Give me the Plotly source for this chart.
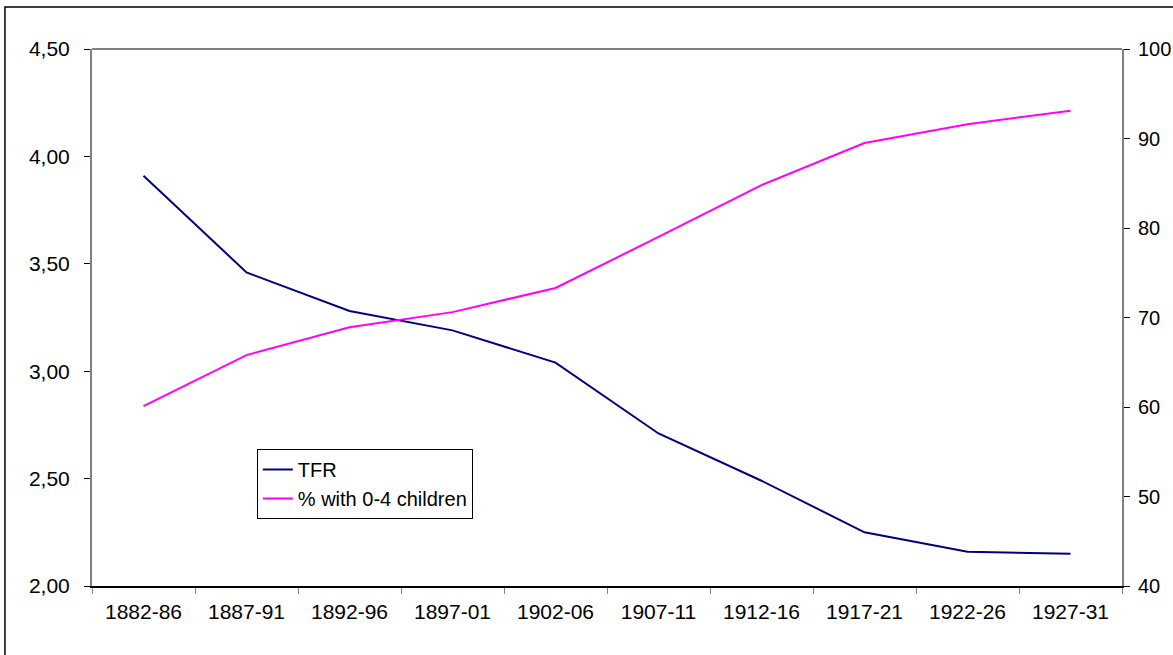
import plotly.graph_objects as go

periods = ["1882-86", "1887-91", "1892-96", "1897-01", "1902-06",
           "1907-11", "1912-16", "1917-21", "1922-26", "1927-31"]
tfr = [3.91, 3.46, 3.28, 3.19, 3.04, 2.71, 2.49, 2.25, 2.16, 2.15]
pct_0_4 = [60.1, 65.8, 68.9, 70.6, 73.3, 79.0, 84.8, 89.5, 91.6, 93.1]

FONT = "Liberation Sans, Arial, sans-serif"

fig = go.Figure()
fig.add_trace(go.Scatter(x=periods, y=tfr, name="TFR", mode="lines",
                         line=dict(color="#000080", width=2), yaxis="y"))
fig.add_trace(go.Scatter(x=periods, y=pct_0_4, name="% with 0-4 children", mode="lines",
                         line=dict(color="#FF00FF", width=2), yaxis="y2"))

fig.update_layout(
    width=1173, height=655,
    margin=dict(l=92, r=51, t=49, b=69, autoexpand=False),
    paper_bgcolor="white", plot_bgcolor="white",
    separators=",.",
    font=dict(family=FONT, size=21, color="black"),
    showlegend=True,
    legend=dict(x=0.160, y=0.255, xanchor="left", yanchor="top",
                bgcolor="white", bordercolor="black", borderwidth=1,
                font=dict(family=FONT, size=20, color="black"),
                tracegroupgap=4),
    xaxis=dict(type="category", range=[-0.5, 9.5], tickson="boundaries", ticks="outside",
               ticklen=6, tickcolor="#808080", showline=True, linecolor="black", linewidth=2,
               showgrid=False, zeroline=False, ticklabelstandoff=6),
    yaxis=dict(range=[2, 4.5], dtick=0.5, tickformat=".2f", ticks="outside", ticklen=6,
               tickcolor="black", showline=True, linecolor="#808080", linewidth=2,
               showgrid=False, zeroline=False, ticklabelstandoff=10),
    yaxis2=dict(range=[40, 100], dtick=10, overlaying="y", side="right", ticks="outside",
                ticklen=6, tickcolor="black", showline=True, linecolor="#808080", linewidth=2,
                showgrid=False, zeroline=False, ticklabelstandoff=4,
                tickfont=dict(family=FONT, size=20, color="black")),
    shapes=[
        dict(type="line", xref="paper", yref="paper", x0=0, x1=1, y0=1, y1=1,
             line=dict(color="#808080", width=2)),
        dict(type="rect", xref="paper", yref="paper", x0=-0.0845, x1=1.2, y0=-0.3, y1=1.078,
             line=dict(color="black", width=1.5), fillcolor="rgba(0,0,0,0)", layer="below"),
    ],
)

fig.write_html("out.html", config={"displayModeBar": False},
               post_script="document.body.style.margin='0';")
